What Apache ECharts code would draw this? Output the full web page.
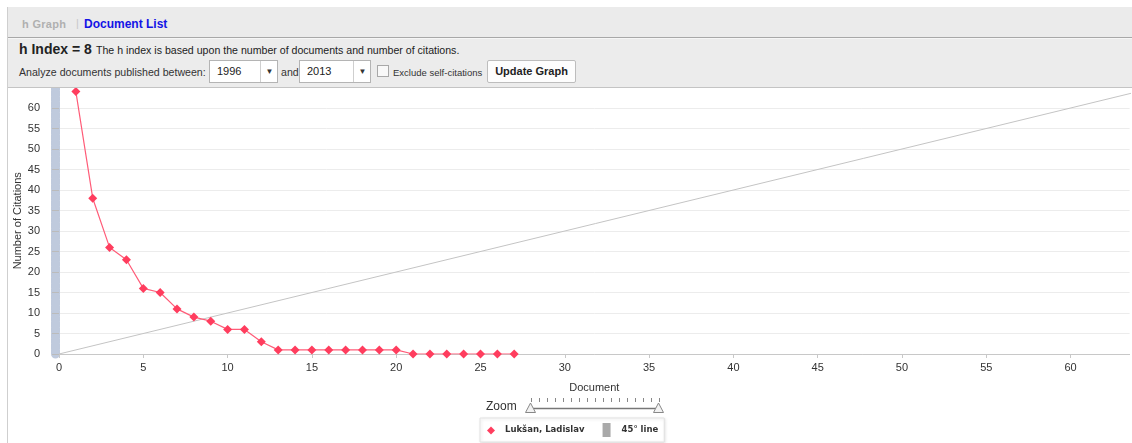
<!DOCTYPE html>
<html>
<head>
<meta charset="utf-8">
<script src="https://cdn.jsdelivr.net/npm/echarts@6/dist/echarts.min.js"></script>
<style>
  html, body { margin:0; padding:0; background:#fff; width:1132px; height:443px; overflow:hidden;
    font-family:"Liberation Sans", Arial, sans-serif; }
  #frame { position:absolute; left:7px; top:7px; right:0; bottom:0; border-left:1px solid #cfcfcf; }
  #chart { position:absolute; left:0; top:0; width:1132px; height:443px; }
  #header { position:absolute; left:8px; top:7px; width:1124px; height:80px; z-index:5; }
  #tabs { position:absolute; left:0; top:0; width:100%; height:30px; background:#ebebeb;
    border-bottom:1px solid #a8a8a8; }
  #tabs .t1 { position:absolute; left:14px; top:11px; font-size:11px; font-weight:bold; color:#b0b0b0; letter-spacing:0.3px; }
  #tabs .sep { position:absolute; left:68px; top:10px; font-size:11px; color:#c8c8c8; }
  #tabs .t2 { position:absolute; left:76px; top:10px; font-size:12px; font-weight:bold; color:#1414e6; }
  #bar { position:absolute; left:0; top:31px; width:100%; height:48px; background:#ececec;
    border-top:1px solid #f6f6f6; border-bottom:1px solid #c4c4c4; }
  .hidx { position:absolute; left:11px; top:2px; font-size:14px; font-weight:bold; color:#222; }
  .hdesc { position:absolute; left:88px; top:5px; font-size:10.6px; color:#222; }
  .lbl { position:absolute; font-size:10.6px; color:#333; white-space:nowrap; }
  .sel { position:absolute; top:21px; height:21px; background:#fff; border:1px solid #b4b4b4; font-size:11px; color:#222; }
  .sel span.v { position:absolute; left:7px; top:4px; }
  .sel span.a { position:absolute; top:0; height:21px; width:17px; border-left:1px solid #cfcfcf; font-size:8px; text-align:center; line-height:21px; color:#333; }
  .chk { position:absolute; left:369px; top:26px; width:10px; height:10px; background:#f8f8f8; border:1px solid #a8a8a8; }
  .btn { position:absolute; left:479px; top:21px; width:87px; height:21px; background:#fdfdfd; border:1px solid #bdbdbd; border-radius:2px;
    font-size:11px; font-weight:bold; color:#222; text-align:center; line-height:21px; }
</style>
</head>
<body>
<div id="chart"></div>
<div id="frame"></div>
<div id="header">
  <div id="tabs"><span class="t1">h Graph</span><span class="sep">|</span><span class="t2">Document List</span></div>
  <div id="bar">
    <span class="hidx">h Index = 8</span>
    <span class="hdesc">The h index is based upon the number of documents and number of citations.</span>
    <span class="lbl" style="left:11px;top:27px;">Analyze documents published between:</span>
    <div class="sel" style="left:201px;width:67px;"><span class="v">1996</span><span class="a" style="left:50px;">&#9660;</span></div>
    <span class="lbl" style="left:273px;top:27px;">and</span>
    <div class="sel" style="left:291px;width:70px;"><span class="v">2013</span><span class="a" style="left:53px;">&#9660;</span></div>
    <div class="chk"></div>
    <span class="lbl" style="left:385px;top:28px;font-size:9.5px;">Exclude self-citations</span>
    <div class="btn">Update Graph</div>
  </div>
</div>
<script>
// ---- data ----
var documents = [1,2,3,4,5,6,7,8,9,10,11,12,13,14,15,16,17,18,19,20,21,22,23,24,25,26,27];
var citations = [64,38,26,23,16,15,11,9,8,6,6,3,1,1,1,1,1,1,1,1,0,0,0,0,0,0,0];
var diagonalX = [0, 65];
var diagonalY = [0, 65];
var seriesNames = ['Lukšan, Ladislav', '45° line'];
var xTicks = [0,5,10,15,20,25,30,35,40,45,50,55,60];
var yTicks = [0,5,10,15,20,25,30,35,40,45,50,55,60];

var chart = echarts.init(document.getElementById('chart'));
var font = '"Liberation Sans", Arial, sans-serif';

var authorData = documents.map(function (d, i) { return [d, citations[i]]; });
var diagData = diagonalX.map(function (d, i) { return [d, diagonalY[i]]; });

// zoom control decoration
var zoomGraphics = [];
zoomGraphics.push({ type:'text', left:486, top:401, style:{ text:'Zoom', font:'12px ' + font, fill:'#333' } });
zoomGraphics.push({ type:'line', shape:{ x1:531, y1:408.5, x2:659, y2:408.5 }, style:{ stroke:'#777', lineWidth:1.5 } });
for (var k = 0; k <= 16; k++) {
  var tx = 531 + k * 8;
  zoomGraphics.push({ type:'line', shape:{ x1:tx + 0.5, y1:398, x2:tx + 0.5, y2:402 }, style:{ stroke:'#888', lineWidth:1 } });
}
[530.5, 658.5].forEach(function (cx) {
  zoomGraphics.push({ type:'polygon', shape:{ points:[[cx, 403],[cx - 5, 412.5],[cx + 5, 412.5]] },
    style:{ fill:'#f2f2f2', stroke:'#888', lineWidth:1 } });
});

var option = {
  animation: false,
  textStyle: { fontFamily: font },
  grid: { left: 59, right: 2.4, top: 87.5, bottom: 89, containLabel: false, outerBoundsMode: 'none' },
  legend: {
    left: 480, top: 418,
    padding: [5, 6, 5, 6],
    itemGap: 18,
    itemWidth: 14, itemHeight: 14,
    backgroundColor: '#fff',
    borderColor: '#e2e2e2', borderWidth: 1,
    shadowColor: 'rgba(0,0,0,0.12)', shadowBlur: 3, shadowOffsetX: 1, shadowOffsetY: 1,
    textStyle: { fontFamily: '"DejaVu Sans", Verdana, sans-serif', fontSize: 8.5, fontWeight: 'bold', color: '#333' },
    data: [
      { name: seriesNames[0], icon: 'path://M5,3.5L9,7.5L5,11.5L1,7.5Z M0,0 M14,14' },
      { name: seriesNames[1], icon: 'path://M0,0H8V14H0Z M14,14' }
    ]
  },
  xAxis: {
    type: 'value', min: 0, max: 63.5, interval: 5,
    name: 'Document', nameLocation: 'middle', nameGap: 28, nameMoveOverlap: false,
    nameTextStyle: { fontSize: 11, color: '#333' },
    axisLine: { lineStyle: { color: '#c8c8c8' } },
    axisTick: { show: true, length: 4, lineStyle: { color: '#c8c8c8' } },
    axisLabel: { fontSize: 11, color: '#333', margin: 8, showMaxLabel: false,
      formatter: function (v) { return xTicks.indexOf(v) >= 0 ? String(v) : ''; } },
    splitLine: { show: false }
  },
  yAxis: [{
    type: 'value', min: 0, max: 65, interval: 5, offset: 9,
    name: 'Number of Citations', nameLocation: 'middle', nameGap: 27, nameRotate: 90, nameMoveOverlap: false,
    nameTextStyle: { fontSize: 11, color: '#333' },
    axisLine: { show: false },
    axisTick: { show: true, length: 7, lineStyle: { color: '#bbb' } },
    axisLabel: { fontSize: 11, color: '#333', margin: 10, showMaxLabel: false,
      formatter: function (v) { return yTicks.indexOf(v) >= 0 ? String(v) : ''; } },
    splitLine: { show: true, lineStyle: { color: '#ececec' } }
  }, {
    type: 'value', min: 0, max: 65, interval: 5, position: 'left', offset: 4,
    axisLine: { show: true, lineStyle: { color: '#bfcadd', width: 9, type: [4, 1.5] } },
    axisTick: { show: false }, axisLabel: { show: false }, splitLine: { show: false }
  }],
  series: [{
    name: seriesNames[0], type: 'line', yAxisIndex: 0,
    data: authorData,
    symbol: 'diamond', symbolSize: 9,
    itemStyle: { color: '#ff3d5e' },
    lineStyle: { color: '#ff5c78', width: 1.2 },
    clip: true, z: 3
  }, {
    name: seriesNames[1], type: 'line', yAxisIndex: 0,
    data: diagData,
    showSymbol: false, symbol: 'none',
    itemStyle: { color: '#a9a9a9' },
    lineStyle: { color: '#c4c4c4', width: 1 },
    clip: true, z: 2
  }],
  graphic: zoomGraphics
};
chart.setOption(option);
</script>
</body>
</html>
